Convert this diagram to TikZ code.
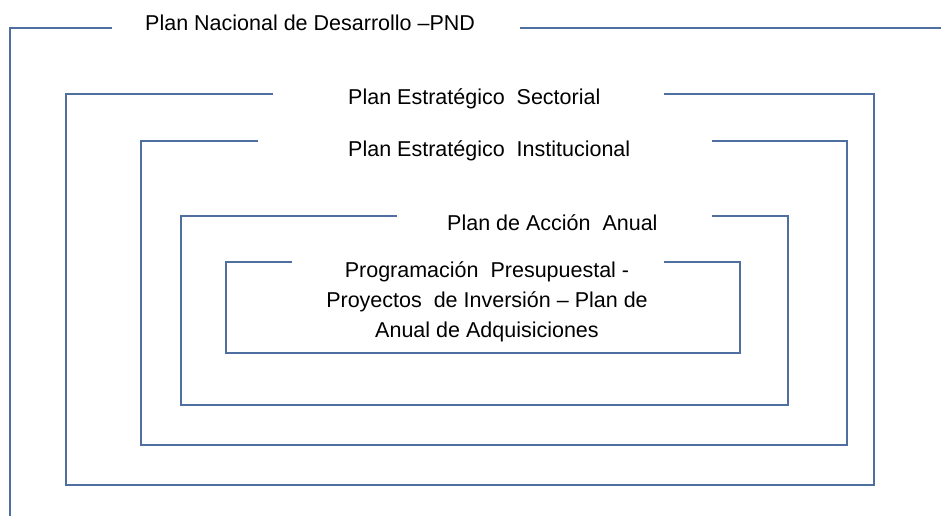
\documentclass[tikz,border=0pt]{standalone}
\usepackage{fontspec}
\setmainfont{Liberation Sans}
\definecolor{azulmarco}{RGB}{79,111,160}
\begin{document}
\begin{tikzpicture}[
        x=1pt, y=-1pt,        % pixel units, y grows downwards
        marco/.style={draw=azulmarco, line width=2pt},
        titulo/.style={font=\fontsize{21.5}{30}\selectfont, inner sep=0pt, anchor=base west},
        bloque/.style={font=\fontsize{21.5}{30}\selectfont, inner sep=0pt, align=center}
    ]
    \useasboundingbox (0,0) rectangle (941,516);

    % Titles of the nested plans
    \node[titulo] (pnd) at (145,31) {Plan Nacional de Desarrollo –PND};
    \node[titulo] (pes) at (348,104) {Plan Estratégico \ Sectorial};
    \node[titulo] (pei) at (348,156) {Plan Estratégico \ Institucional};
    \node[titulo] (paa) at (447,230) {Plan de Acción \ Anual};
    \node[bloque] (ppi) at (487,302) {Programación \ Presupuestal -\\Proyectos \ de Inversión – Plan de\\Anual de Adquisiciones};

    % Outer frame (open at the right and bottom)
    \draw[marco] (112,28) -- (10,28) -- (10,516);
    \draw[marco] (520,28) -- (941,28);

    % Nested frames
    \draw[marco] (273,94) -- (66,94) -- (66,485) -- (874,485) -- (874,94) -- (664,94);
    \draw[marco] (258,141) -- (141,141) -- (141,445) -- (847,445) -- (847,141) -- (712,141);
    \draw[marco] (397,216) -- (181,216) -- (181,405) -- (788,405) -- (788,216) -- (712,216);
    \draw[marco] (292,262) -- (226,262) -- (226,353) -- (740,353) -- (740,262) -- (664,262);
\end{tikzpicture}
\end{document}
